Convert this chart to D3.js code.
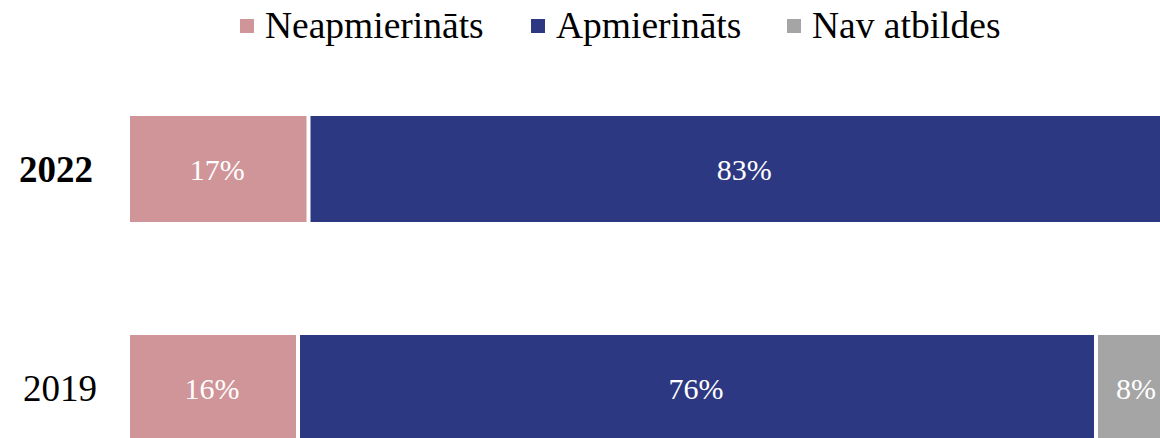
<!DOCTYPE html>
<html>
<head>
<meta charset="utf-8">
<script src="https://cdn.jsdelivr.net/npm/d3@7"></script>
<style>
  html, body { margin: 0; padding: 0; background: #fff; overflow: hidden; }
  svg { display: block; font-family: "Liberation Serif", "Times New Roman", serif; }
</style>
</head>
<body>
<svg id="chart" width="1160" height="438"></svg>
<script>
const years = ["2022", "2019"];
const seriesNames = ["Neapmierināts", "Apmierināts", "Nav atbildes"];
const seriesColors = ["#D09599", "#2D3882", "#A5A5A5"];
const neapmierinats = [17, 16];
const apmierinats = [83, 76];
const navAtbildes = [0, 8];

const svg = d3.select("#chart");

const rows = years.map((y, i) => ({
  year: y,
  "Neapmierināts": neapmierinats[i],
  "Apmierināts": apmierinats[i],
  "Nav atbildes": navAtbildes[i]
}));
const stacked = d3.stack().keys(seriesNames)(rows);

const x = d3.scaleLinear().domain([0, 100]).range([130, 1180]);
const y = d3.scaleBand().domain(years).range([116, 116 + 219 + 106])
  .paddingInner(113 / 219).paddingOuter(0);
const color = d3.scaleOrdinal().domain(seriesNames).range(seriesColors);
const gap = 2;

const g = svg.append("g");
stacked.forEach(layer => {
  const lg = g.append("g");
  const segs = layer.filter(d => d[1] - d[0] > 0);
  const x0 = d => x(d[0]) + (d[0] > 0 ? gap : 0);
  const x1 = d => x(d[1]) - (d[1] < 100 ? gap : 0);
  lg.selectAll("rect")
    .data(segs)
    .join("rect")
    .attr("x", x0)
    .attr("y", d => y(d.data.year))
    .attr("width", d => x1(d) - x0(d))
    .attr("height", y.bandwidth())
    .attr("fill", color(layer.key));
  lg.selectAll("text")
    .data(segs)
    .join("text")
    .attr("x", d => (x0(d) + x1(d)) / 2 - (layer.key === "Nav atbildes" ? 3 : 1))
    .attr("y", d => y(d.data.year) + y.bandwidth() / 2)
    .attr("dy", "0.35em")
    .attr("text-anchor", "middle")
    .attr("fill", "#fff")
    .attr("font-size", 30)
    .text(d => (d[1] - d[0]) + "%");
});

// Category labels
svg.append("g").selectAll("text")
  .data(years)
  .join("text")
  .attr("x", (d, i) => i === 0 ? 93 : 97)
  .attr("y", d => y(d) + y.bandwidth() / 2)
  .attr("dy", "0.35em")
  .attr("text-anchor", "end")
  .attr("font-size", 37)
  .attr("font-weight", (d, i) => i === 0 ? "bold" : "normal")
  .attr("fill", "#000")
  .text(d => d);

// Legend
const legendX = [240, 531, 787];
const leg = svg.append("g");
seriesNames.forEach((name, i) => {
  leg.append("rect")
    .attr("x", legendX[i]).attr("y", 19)
    .attr("width", 14).attr("height", 14)
    .attr("fill", seriesColors[i]);
  leg.append("text")
    .attr("x", legendX[i] + 25).attr("y", 38)
    .attr("font-size", 37.5)
    .attr("fill", "#000")
    .text(name);
});
</script>
</body>
</html>
